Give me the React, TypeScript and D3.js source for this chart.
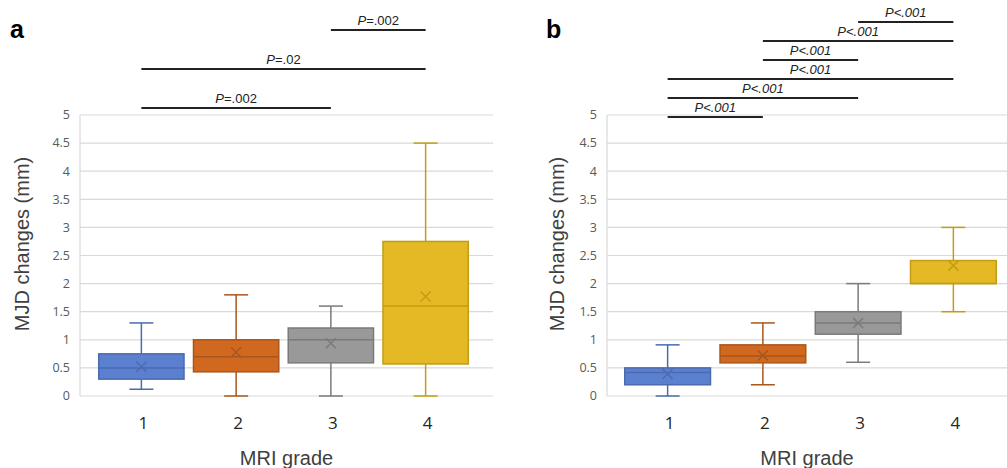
import * as React from 'react';
import * as d3 from 'd3';

const grades = ['1', '2', '3', '4'];
const yTicks = [0, 0.5, 1, 1.5, 2, 2.5, 3, 3.5, 4, 4.5, 5];

// panel a: box statistics per MRI grade
const aLow = [0.12, 0, 0, 0];
const aQ1 = [0.3, 0.43, 0.59, 0.57];
const aMedian = [0.5, 0.7, 1.0, 1.6];
const aQ3 = [0.75, 1.0, 1.21, 2.75];
const aHigh = [1.3, 1.8, 1.6, 4.5];
const aMean = [0.52, 0.78, 0.94, 1.77];
const aPairs = [['1', '3'], ['1', '4'], ['3', '4']];
const aPValues = ['=.002', '=.02', '=.002'];

// panel b
const bLow = [0, 0.2, 0.6, 1.5];
const bQ1 = [0.2, 0.59, 1.1, 2.0];
const bMedian = [0.42, 0.71, 1.3, 2.0];
const bQ3 = [0.5, 0.91, 1.5, 2.41];
const bHigh = [0.91, 1.3, 2.0, 3.0];
const bMean = [0.39, 0.72, 1.3, 2.32];
const bPairs = [['1', '2'], ['1', '3'], ['1', '4'], ['2', '3'], ['2', '4'], ['3', '4']];
const bPValues = ['<.001', '<.001', '<.001', '<.001', '<.001', '<.001'];

const fills = ['#5b80cf', '#d0691f', '#999999', '#e5b925'];
const strokes = ['#4a6bb0', '#a9561c', '#7a7a7a', '#c49c12'];

const FONT = '"Liberation Sans", Arial, sans-serif';
const TICK_FONT = '"Open Sans", sans-serif';

type PanelProps = {
  letter: string;
  letterX: number;
  left: number;
  right: number;
  bandStart: number;
  bandEnd: number;
  titleX: number;
  low: number[];
  q1: number[];
  median: number[];
  q3: number[];
  high: number[];
  mean: number[];
  pairs: string[][];
  pValues: string[];
  pairBase: number;
  pairStep: number;
  italicAll: boolean;
};

function Panel(p: PanelProps) {
  const y = d3.scaleLinear().domain([0, 5]).range([396, 115]);
  const x = d3.scaleBand().domain(grades).range([p.bandStart, p.bandEnd]).paddingInner(0.1).paddingOuter(0.05);
  const bw = x.bandwidth();
  const cx = (g: string) => (x(g) as number) + bw / 2;
  const cap = 12;
  const mk = 5;

  return (
    <g>
      <text x={p.letterX} y={38} fontFamily={FONT} fontWeight="bold" fontSize={25} fill="#000">{p.letter}</text>

      {/* grid */}
      {yTicks.map(t => (
        <g key={t}>
          <line x1={p.left} x2={p.right} y1={y(t)} y2={y(t)} stroke="#d9d9d9" strokeWidth={1.2} />
          <text x={p.left - 10} y={y(t)} dy="0.35em" textAnchor="end" fontFamily={TICK_FONT} fontSize={12.5} fill="#595959">{t}</text>
        </g>
      ))}
      <line x1={p.left} x2={p.left} y1={y(5)} y2={y(0)} stroke="#d9d9d9" strokeWidth={1.2} />

      {/* boxes */}
      {grades.map((g, i) => {
        const c = cx(g);
        const x0 = x(g) as number;
        return (
          <g key={g}>
            <line x1={c} x2={c} y1={y(p.high[i])} y2={y(p.q3[i])} stroke={strokes[i]} strokeWidth={1.5} />
            <line x1={c} x2={c} y1={y(p.q1[i])} y2={y(p.low[i])} stroke={strokes[i]} strokeWidth={1.5} />
            <line x1={c - cap} x2={c + cap} y1={y(p.high[i])} y2={y(p.high[i])} stroke={strokes[i]} strokeWidth={1.5} />
            <line x1={c - cap} x2={c + cap} y1={y(p.low[i])} y2={y(p.low[i])} stroke={strokes[i]} strokeWidth={1.5} />
            <rect x={x0} y={y(p.q3[i])} width={bw} height={y(p.q1[i]) - y(p.q3[i])} fill={fills[i]} stroke={strokes[i]} strokeWidth={1.5} />
            <line x1={x0} x2={x0 + bw} y1={y(p.median[i])} y2={y(p.median[i])} stroke={strokes[i]} strokeWidth={1.5} />
            <path d={`M${c - mk},${y(p.mean[i]) - mk}L${c + mk},${y(p.mean[i]) + mk}M${c - mk},${y(p.mean[i]) + mk}L${c + mk},${y(p.mean[i]) - mk}`}
              stroke={strokes[i]} strokeWidth={1.5} fill="none" />
            <text x={c + 2} y={429} textAnchor="middle" fontFamily={TICK_FONT} fontSize={17} fill="#262626">{g}</text>
          </g>
        );
      })}

      {/* significance bars */}
      {p.pairs.map(([g1, g2], i) => {
        const ly = p.pairBase - i * p.pairStep;
        const x1 = cx(g1);
        const x2 = cx(g2);
        return (
          <g key={i}>
            <line x1={x1} x2={x2} y1={ly} y2={ly} stroke="#222" strokeWidth={1.8} />
            <text x={(x1 + x2) / 2} y={ly - 5} textAnchor="middle" fontFamily={FONT} fontSize={13} fill="#222"
              fontStyle={p.italicAll ? 'italic' : 'normal'}>
              <tspan fontStyle="italic">P</tspan>{p.pValues[i]}
            </text>
          </g>
        );
      })}

      {/* axis titles */}
      <text transform={`translate(${p.titleX},244) rotate(-90)`} dy="0.35em" textAnchor="middle" fontFamily={FONT} fontSize={20} fill="#404040">MJD changes (mm)</text>
      <text x={(p.left + p.right) / 2} y={465} textAnchor="middle" fontFamily={FONT} fontSize={20} fill="#404040">MRI grade</text>
    </g>
  );
}

export default function App() {
  return (
    <svg width={1007} height={468} style={{ position: 'absolute', left: 0, top: 0, background: '#fff' }}>
      <rect width={1007} height={468} fill="#fff" />
      <Panel letter="a" letterX={10} left={80} right={493} bandStart={94} bandEnd={473} titleX={22}
        low={aLow} q1={aQ1} median={aMedian} q3={aQ3} high={aHigh} mean={aMean}
        pairs={aPairs} pValues={aPValues} pairBase={108} pairStep={39} italicAll={false} />
      <Panel letter="b" letterX={546} left={607} right={1007} bandStart={620} bandEnd={1001} titleX={557}
        low={bLow} q1={bQ1} median={bMedian} q3={bQ3} high={bHigh} mean={bMean}
        pairs={bPairs} pValues={bPValues} pairBase={117} pairStep={19} italicAll={true} />
    </svg>
  );
}
